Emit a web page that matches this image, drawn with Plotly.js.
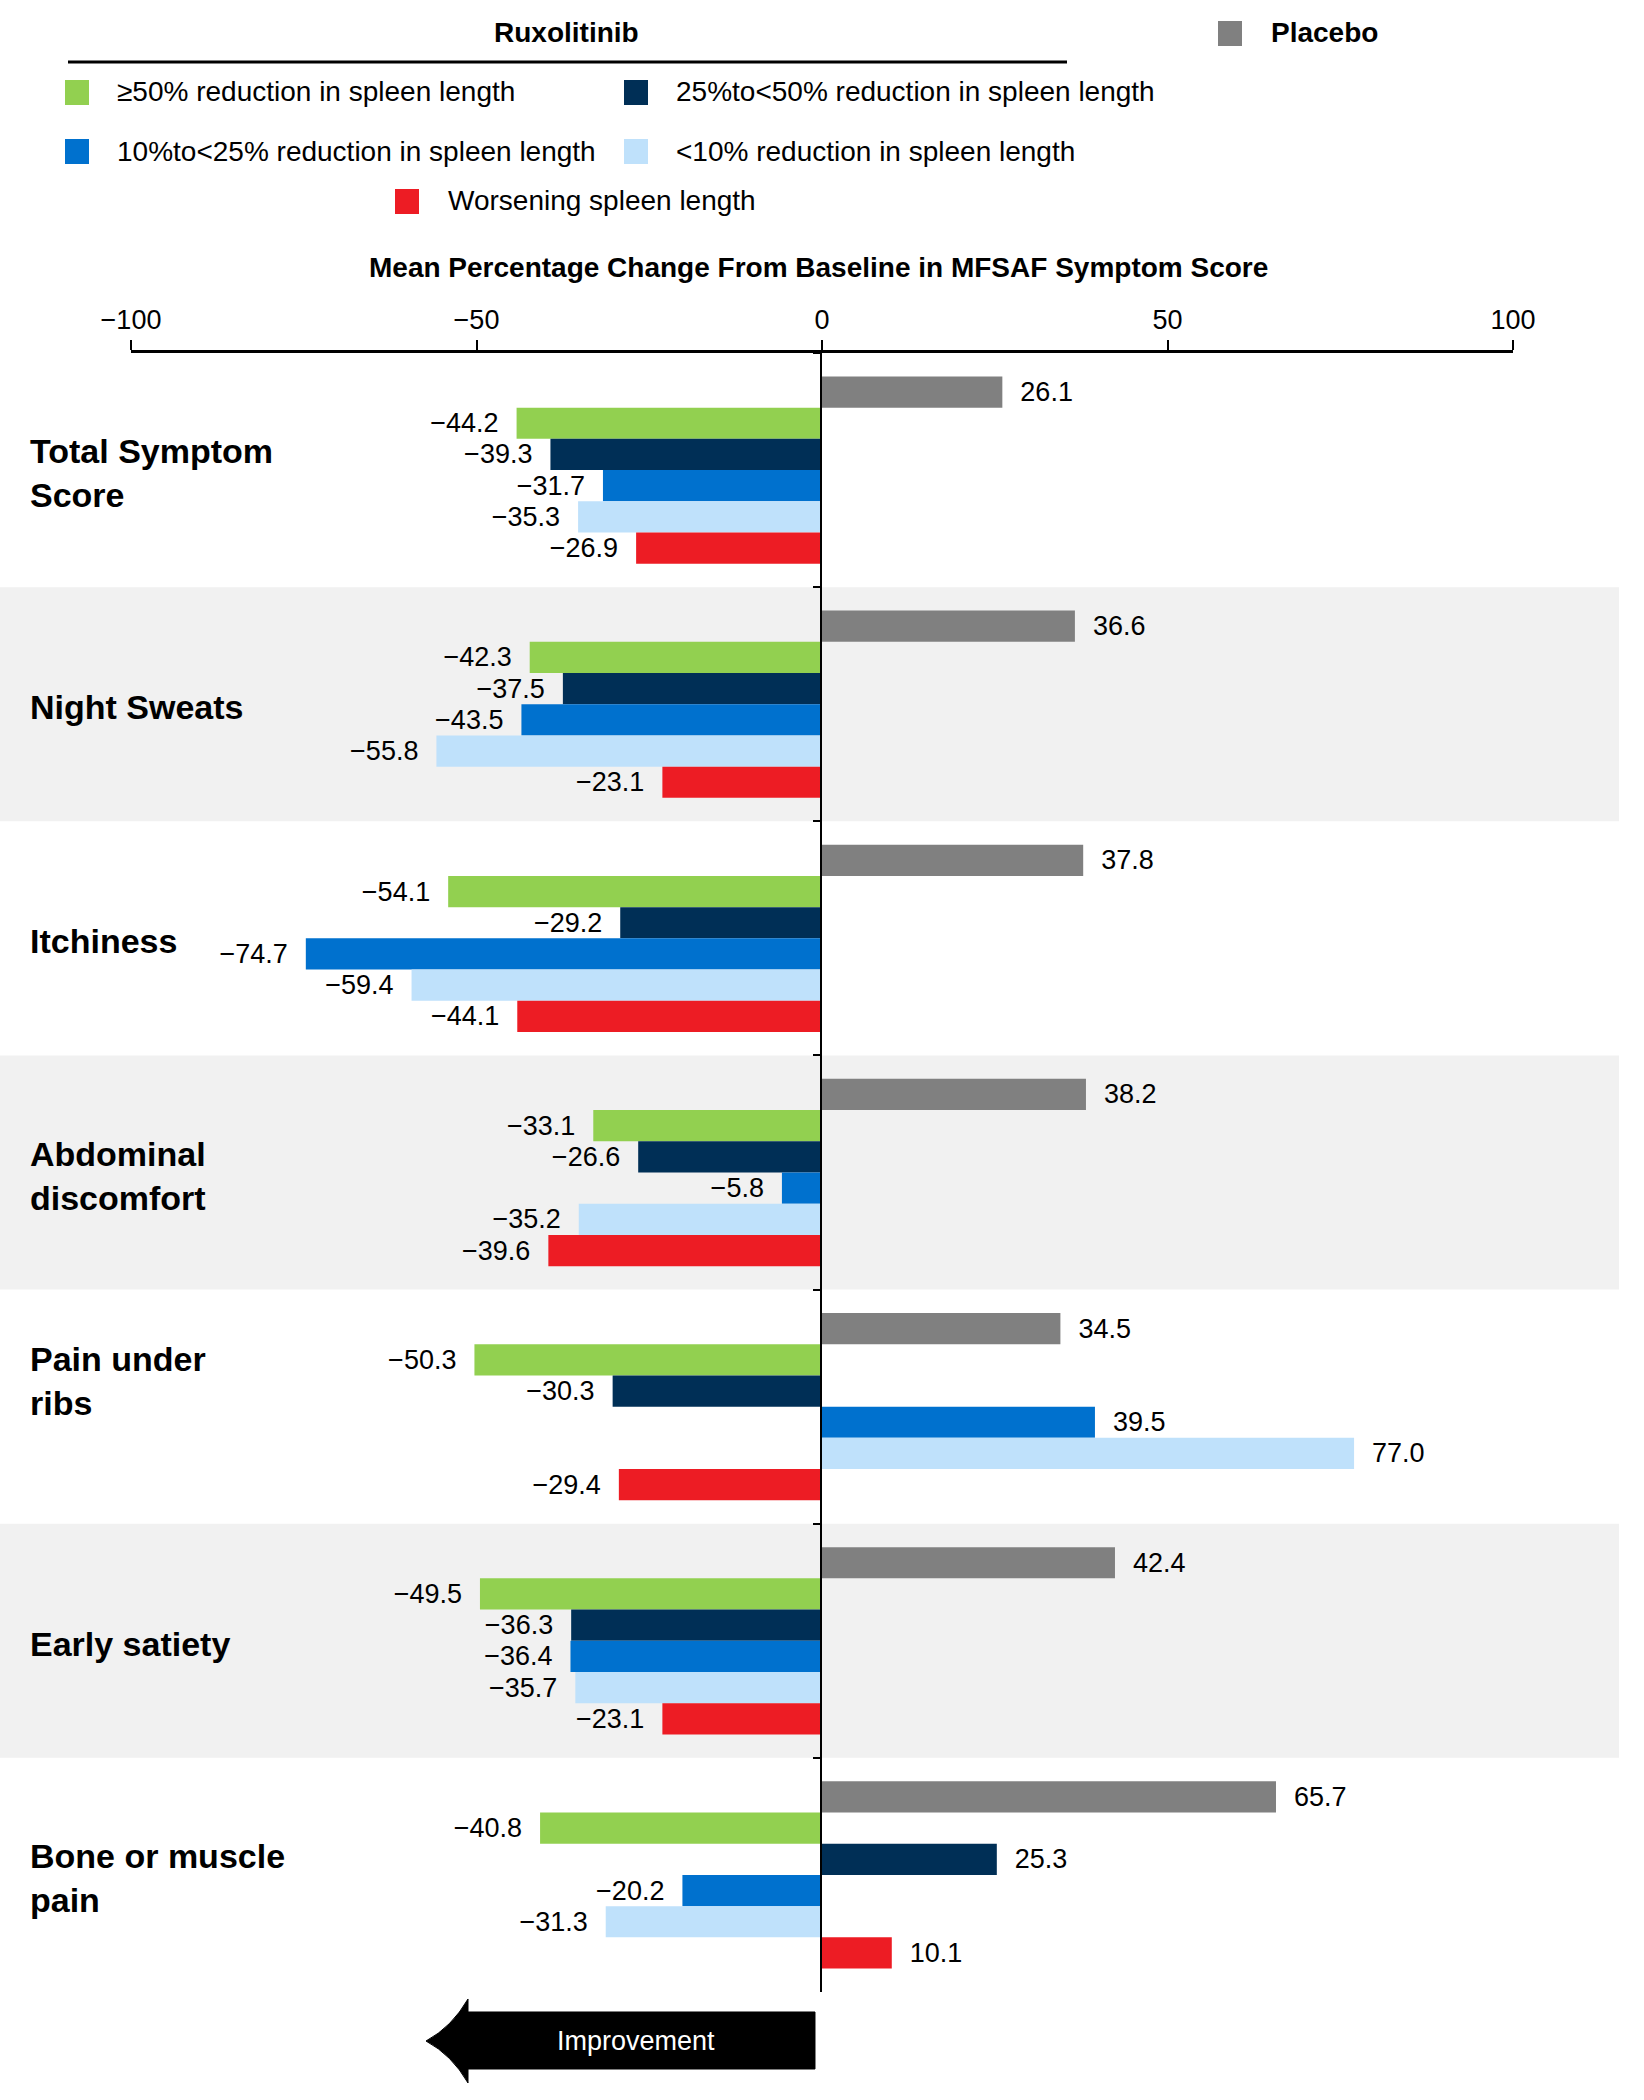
<!DOCTYPE html>
<html>
<head>
<meta charset="utf-8">
<script src="https://cdn.plot.ly/plotly-3.0.1.min.js"></script>
<style>
  html, body { margin: 0; padding: 0; background: #fff; }
  #chart { width: 1644px; height: 2100px; }
</style>
</head>
<body>
<div id="chart"></div>
<script>
// ---------- data ----------
const categories = ["Total Symptom Score", "Night Sweats", "Itchiness", "Abdominal discomfort",
                    "Pain under ribs", "Early satiety", "Bone or muscle pain"];
const categoryLabels = ["Total Symptom<br>Score", "Night Sweats", "Itchiness", "Abdominal<br>discomfort",
                        "Pain under<br>ribs", "Early satiety", "Bone or muscle<br>pain"];
const seriesNames = ["Placebo", "≥50% reduction in spleen length", "25%to<50% reduction in spleen length",
                     "10%to<25% reduction in spleen length", "<10% reduction in spleen length",
                     "Worsening spleen length"];
const placebo      = [26.1, 36.6, 37.8, 38.2, 34.5, 42.4, 65.7];
const reduction50  = [-44.2, -42.3, -54.1, -33.1, -50.3, -49.5, -40.8];
const reduction25  = [-39.3, -37.5, -29.2, -26.6, -30.3, -36.3, 25.3];
const reduction10  = [-31.7, -43.5, -74.7, -5.8, 39.5, -36.4, -20.2];
const reductionLt10 = [-35.3, -55.8, -59.4, -35.2, 77.0, -35.7, -31.3];
const worsening    = [-26.9, -23.1, -44.1, -39.6, -29.4, -23.1, 10.1];
const xTicks = [-100, -50, 0, 50, 100];
const axisTitle = "Mean Percentage Change From Baseline in MFSAF Symptom Score";
const groupTitle = "Ruxolitinib";
const arrowLabel = "Improvement";

// ---------- styles ----------
const seriesValues = [placebo, reduction50, reduction25, reduction10, reductionLt10, worsening];
const colors = ["#808080", "#92d050", "#002f56", "#0071ce", "#bfe1fb", "#ed1c24"];
const FONT = "Liberation Sans, Arial, sans-serif";
const W = 1644, H = 2100;
const M = {l: 131, r: 131, t: 353, b: 108};
const PW = W - M.l - M.r, PH = H - M.t - M.b;
const px = x => (x - M.l) / PW;
const py = y => (H - M.b - y) / PH;

function fmt(v) {
  const s = Math.abs(v).toFixed(1);
  const pad = "\u00a0\u00a0";
  return v < 0 ? "\u2212" + s + pad : pad + s;
}

const traces = seriesValues.map((vals, i) => ({
  type: "bar",
  orientation: "h",
  name: seriesNames[i],
  x: vals,
  y: categories,
  marker: {color: colors[i], line: {width: 0}},
  text: vals.map(fmt),
  textposition: "outside",
  constraintext: "none",
  cliponaxis: false,
  textfont: {family: FONT, size: 27, color: "#000"},
  hoverinfo: "x+name",
  showlegend: false
}));

const shapes = [];
const annotations = [];

// alternating grey bands
categories.forEach((c, i) => {
  if (i % 2 === 1) {
    shapes.push({type: "rect", layer: "below", xref: "paper", yref: "y",
      x0: px(0), x1: px(1619), y0: i - 0.5, y1: i + 0.5,
      fillcolor: "#f1f1f1", line: {width: 0}});
  }
});

// category labels
categoryLabels.forEach((lab, i) => {
  annotations.push({xref: "paper", yref: "y", x: px(28), y: categories[i],
    xanchor: "left", yanchor: "middle", align: "left", showarrow: false,
    yshift: i === 4 ? 26 : -3,
    text: "<b>" + lab + "</b>", font: {family: FONT, size: 34, color: "#000"}});
});

// axis title
annotations.push({xref: "paper", yref: "paper", x: px(818), y: py(267),
  xanchor: "center", yanchor: "middle", showarrow: false,
  text: "<b>" + axisTitle + "</b>", font: {family: FONT, size: 28, color: "#000"}});

// legend block
annotations.push({xref: "paper", yref: "paper", x: px(566), y: py(33),
  xanchor: "center", yanchor: "middle", showarrow: false,
  text: "<b>" + groupTitle + "</b>", font: {family: FONT, size: 28, color: "#000"}});
shapes.push({type: "line", xref: "paper", yref: "paper",
  x0: px(68), x1: px(1067), y0: py(62), y1: py(62), line: {color: "#000", width: 3}});

const legendPos = [
  {sx: 1218, cy: 33, tx: 1269, bold: true},
  {sx: 65, cy: 92, tx: 115},
  {sx: 624, cy: 92, tx: 674},
  {sx: 65, cy: 151, tx: 115},
  {sx: 624, cy: 151, tx: 674},
  {sx: 395, cy: 201, tx: 446}
];
legendPos.forEach((p, i) => {
  shapes.push({type: "rect", xref: "paper", yref: "paper",
    x0: px(p.sx), x1: px(p.sx + 24), y0: py(p.cy - 12), y1: py(p.cy + 13),
    fillcolor: colors[i], line: {width: 0}});
  annotations.push({xref: "paper", yref: "paper", x: px(p.tx), y: py(p.cy),
    xanchor: "left", yanchor: "middle", showarrow: false,
    text: p.bold ? "<b>" + seriesNames[i] + "</b>" : seriesNames[i].replace(/</g, "&lt;"),
    font: {family: FONT, size: 28, color: "#000"}});
});

// improvement arrow
const P = (x, y) => px(x).toFixed(5) + "," + py(y).toFixed(5);
const arrowPath = "M " + P(815, 2012) + " L " + P(468, 2012) + " L " + P(468, 1999) +
  " Q " + P(452, 2027) + " " + P(426, 2041) +
  " Q " + P(452, 2055) + " " + P(468, 2083) +
  " L " + P(468, 2069) + " L " + P(815, 2069) + " Z";
shapes.push({type: "path", xref: "paper", yref: "paper", path: arrowPath,
  fillcolor: "#000", line: {color: "#000", width: 1}});
annotations.push({xref: "paper", yref: "paper", x: px(636), y: py(2041),
  xanchor: "center", yanchor: "middle", showarrow: false,
  text: arrowLabel, font: {family: FONT, size: 27, color: "#fff"}});

const layout = {
  width: W, height: H, autosize: false,
  margin: M,
  paper_bgcolor: "#fff", plot_bgcolor: "rgba(0,0,0,0)",
  font: {family: FONT, color: "#000"},
  barmode: "group", bargap: 0.2, bargroupgap: 0,
  showlegend: false,
  xaxis: {
    side: "top", range: [-100, 100], tickvals: xTicks,
    showline: true, linecolor: "#000", linewidth: 3,
    ticks: "outside", ticklen: 10, tickwidth: 2, tickcolor: "#000",
    tickfont: {family: FONT, size: 27, color: "#000"},
    showgrid: false, zeroline: false, fixedrange: true
  },
  yaxis: {
    type: "category", categoryarray: categories, autorange: "reversed",
    anchor: "free", position: px(821),
    showline: true, linecolor: "#000", linewidth: 2,
    ticks: "outside", tickson: "boundaries", ticklen: 7, tickwidth: 2, tickcolor: "#000",
    showticklabels: false, showgrid: false, zeroline: false, fixedrange: true
  },
  shapes: shapes,
  annotations: annotations
};

Plotly.newPlot("chart", traces, layout, {displayModeBar: false, staticPlot: true});
</script>
</body>
</html>
